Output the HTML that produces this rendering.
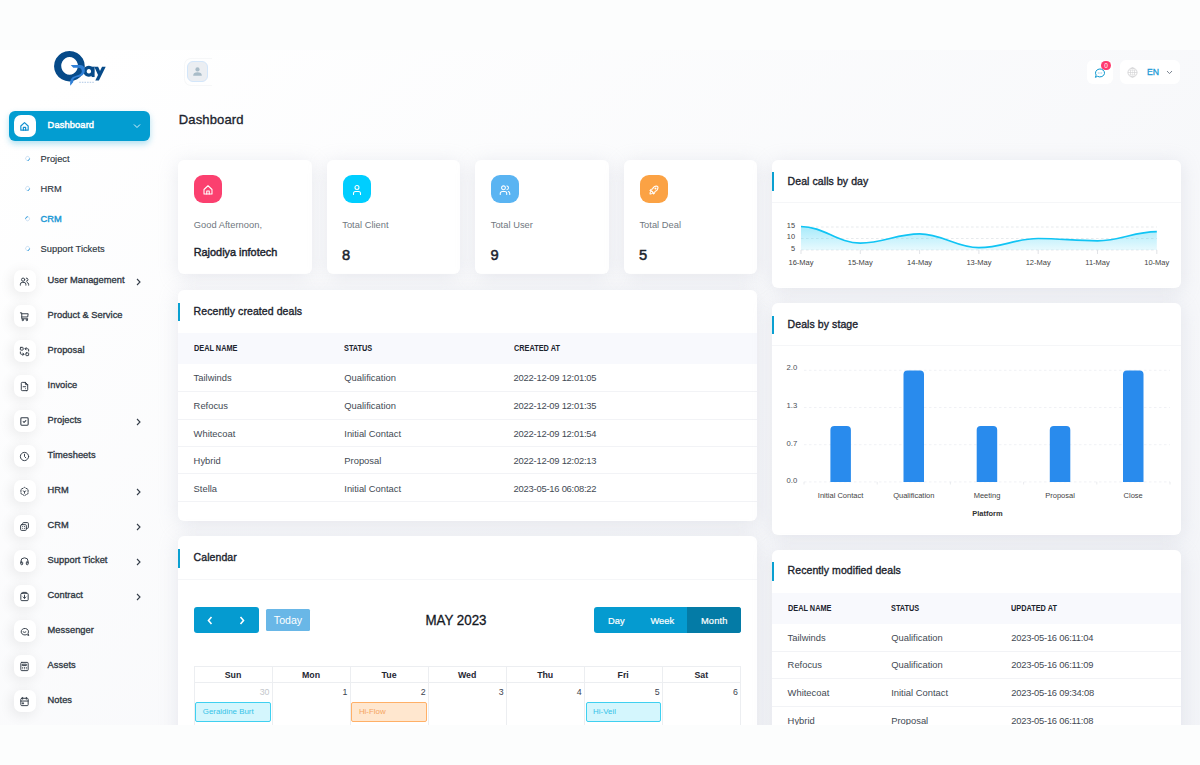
<!DOCTYPE html>
<html>
<head>
<meta charset="utf-8">
<title>Dashboard</title>
<style>
*{box-sizing:border-box;margin:0;padding:0}
html,body{width:1200px;height:765px;overflow:hidden}
body{font-family:"Liberation Sans",sans-serif;background:#fcfdfd;color:#293240;position:relative}
.abs{position:absolute}
#shot{position:absolute;left:0;top:50px;width:1200px;height:674.5px;background:linear-gradient(141.55deg,rgba(238,240,245,0) 3.46%,#eef0f5 99.86%) 0 0/1200px 1250px no-repeat,#fff;overflow:hidden}
/* all coords inside #shot are page-y minus 50 */
#side{position:absolute;left:0;top:0;width:178px;height:675px;background:transparent}
.mi{position:absolute;left:14px;width:150px;height:22px}
.mi .ib{position:absolute;left:0;top:0;width:22px;height:22px;border-radius:7px;background:#fff;box-shadow:-1.9px 2.5px 14px rgba(0,0,0,.09)}
.mi .ib svg{position:absolute;left:5.1px;top:5.5px;width:11px;height:11px;stroke:#333c48;fill:none;stroke-width:2.1;stroke-linecap:round;stroke-linejoin:round}
.mi .t{position:absolute;left:33.6px;top:5.2px;font-size:9.3px;line-height:11px;font-weight:400;-webkit-text-stroke:.32px;color:#2f3742;white-space:nowrap;letter-spacing:.03px}
.mi .ch{position:absolute;left:121px;top:8px;width:7px;height:8px}
.sub{position:absolute;left:40.6px;font-size:9.3px;line-height:11px;color:#2f3742;-webkit-text-stroke:.15px;white-space:nowrap}
.dot{position:absolute;left:25.3px;width:5.2px;height:5.2px;border-radius:50%;border:1.2px solid #d3e4f4;border-right-color:#2a98dc;background:#fff;transform:rotate(45deg)}

.card{position:absolute;background:#fff;border-radius:6px;box-shadow:0 3.75px 18.75px rgba(182,186,203,.3)}
.ctitle{position:absolute;left:15.6px;font-size:10.5px;line-height:12px;font-weight:400;-webkit-text-stroke:.35px;letter-spacing:.08px;color:#1b232d;white-space:nowrap}
.bar{position:absolute;left:0;width:2px;background:#0aa0d1}
.hr{position:absolute;left:0;right:0;height:1px;background:#f2f3f6}
.th{position:absolute;font-size:8.4px;line-height:10px;font-weight:700;color:#1b232d;white-space:nowrap;transform:scaleX(.875);transform-origin:0 50%;margin-left:-.3px;margin-top:-.9px}
.td{position:absolute;font-size:9.4px;line-height:11px;color:#434a54;white-space:nowrap;margin-left:-.4px;margin-top:.3px}
.thband{position:absolute;left:0;right:0;background:#f8f9fd}
.sic{position:absolute;left:16px;top:15px;width:28px;height:28px;border-radius:9px}
.sic svg{position:absolute;left:8px;top:9.5px;width:12px;height:12px;stroke:#fff;fill:none;stroke-width:2.1;stroke-linecap:round;stroke-linejoin:round}
.sl{position:absolute;left:15.7px;top:60px;font-size:9.3px;line-height:11px;letter-spacing:.04px;color:#6f7780;white-space:nowrap}
.sv{position:absolute;left:15.4px;top:86.4px;font-size:14.7px;line-height:18px;font-weight:400;-webkit-text-stroke:.5px;color:#1b232d;white-space:nowrap}
.ax{position:absolute;font-size:7.5px;color:#444;white-space:nowrap}
</style>
</head>
<body>
<div id="shot">
<div id="side">
<svg class="abs" style="left:48px;top:-4px" width="64" height="44" viewBox="0 0 64 44">
<path fill="#064a89" fill-rule="evenodd" d="M21.42 4.9 a15.38 15.24 0 1 0 0.01 0 Z M21.56 10.95 a8.34 8.9 0 1 1 -0.01 0 Z"/>
<path fill="#064a89" fill-rule="evenodd" d="M40.8 19.85 a5.46 5.46 0 1 0 0.01 0 Z M40.9 23.1 a2.2 2.2 0 1 1 -0.01 0 Z"/>
<rect x="43.6" y="20.7" width="3" height="10.35" fill="#064a89"/>
<path fill="#064a89" d="M46.3 20.7 h3.8 l3.5 7.9 l-2 4 z M54.05 20.7 h3.65 l-6.8 13.8 h-3.6 z"/>
<path fill="#2f7fd6" d="M22.7 19 L32 19 C35.5 19 37 22 36.8 25 C36.5 29 33 30.5 28 31.5 C25.5 32.2 25 33.5 25.3 36 L22.3 39.7 C22 36 22 33 25 31 C28 29.5 33.5 29 33.8 25.5 C33.9 23 32.5 21.8 30 21.8 L25.3 21.7 Z"/>
<path d="M31.3 36.3 H46" stroke="#3b78c2" stroke-width=".8" stroke-dasharray="1.5 1.1" opacity=".5"/>
</svg>
<div class="abs" style="left:9px;top:61px;width:141px;height:30px;border-radius:6px;background:#039dd1;box-shadow:0 3px 6px rgba(3,157,209,.3)"></div>
<div class="mi" style="top:65px"><div class="ib" style="box-shadow:none"><svg viewBox="0 0 24 24" style="stroke:#1590d0;stroke-width:2.6"><path d="M4 11 L12 3.5 L20 11 V20 H4 Z"/><path d="M9.5 20 v-6 h5 v6"/></svg></div><div class="t" style="color:#fff;-webkit-text-stroke:.45px;letter-spacing:.12px">Dashboard</div>
<svg class="ch" style="left:119px;top:8px;width:8px;height:6px" viewBox="0 0 8 6"><path d="M1 1.5 L4 4.500 L7 1.5" fill="none" stroke="#e8f6fc" stroke-width=".95"/></svg></div>
<div class="dot" style="top:106.1px"></div><div class="sub" style="top:104.3px;">Project</div>
<div class="dot" style="top:136.1px"></div><div class="sub" style="top:134.3px;">HRM</div>
<div class="dot" style="top:166.1px;transform:rotate(-135deg)"></div><div class="sub" style="top:164.3px;color:#1a98d5;-webkit-text-stroke:.4px">CRM</div>
<div class="dot" style="top:196.1px"></div><div class="sub" style="top:194.3px;">Support Tickets</div>
<div class="mi" style="top:220px"><div class="ib"><svg viewBox="0 0 24 24"><circle cx="9" cy="8" r="3.5"/><path d="M3 20 v-2 a4 4 0 0 1 4 -4 h4 a4 4 0 0 1 4 4 v2"/><path d="M16 4.5 a3.5 3.5 0 0 1 0 7"/><path d="M21 20 v-2 a4 4 0 0 0 -3 -3.8"/></svg></div><div class="t">User Management</div><svg class="ch" viewBox="0 0 7 8"><path d="M2 1 L5 4 L2 7" fill="none" stroke="#333c48" stroke-width="1.1"/></svg></div>
<div class="mi" style="top:255px"><div class="ib"><svg viewBox="0 0 24 24"><circle cx="8" cy="19.5" r="1.5"/><circle cx="17" cy="19.5" r="1.5"/><path d="M3 4 h3 v13 h13"/><path d="M6 6 h14 l-1 7 h-13"/></svg></div><div class="t">Product &amp; Service</div></div>
<div class="mi" style="top:290px"><div class="ib"><svg viewBox="0 0 24 24"><rect x="3" y="3" width="6" height="6" rx="1"/><rect x="15" y="15" width="6" height="6" rx="1"/><path d="M21 11 v-3 a2 2 0 0 0 -2 -2 h-6 l2.6 2.6 m0 -5.2 l-2.6 2.6"/><path d="M3 13 v3 a2 2 0 0 0 2 2 h6 l-2.6 -2.6 m0 5.2 l2.6 -2.6"/></svg></div><div class="t">Proposal</div></div>
<div class="mi" style="top:325px"><div class="ib"><svg viewBox="0 0 24 24"><path d="M14 3 v4 a1 1 0 0 0 1 1 h4"/><path d="M17 21 h-10 a2 2 0 0 1 -2 -2 v-14 a2 2 0 0 1 2 -2 h7 l5 5 v11 a2 2 0 0 1 -2 2z"/><path d="M9 12.5 h5.500 M14.5 16.8 h.01"/></svg></div><div class="t">Invoice</div></div>
<div class="mi" style="top:360px"><div class="ib"><svg viewBox="0 0 24 24"><rect x="4" y="4" width="16" height="16" rx="2" stroke-width="2.3"/><path d="M9 12 l2 2 l4 -4" stroke-width="2.3"/></svg></div><div class="t">Projects</div><svg class="ch" viewBox="0 0 7 8"><path d="M2 1 L5 4 L2 7" fill="none" stroke="#333c48" stroke-width="1.1"/></svg></div>
<div class="mi" style="top:395px"><div class="ib"><svg viewBox="0 0 24 24"><circle cx="12" cy="12" r="9"/><path d="M12 7 v5 l3 3"/></svg></div><div class="t">Timesheets</div></div>
<div class="mi" style="top:430px"><div class="ib"><svg viewBox="0 0 24 24"><path d="M12 3 L19.8 7.5 V16.5 L12 21 L4.2 16.5 V7.5 Z" stroke-dasharray="3.2 2.8" stroke-dashoffset="1.6"/><path d="M12 12.5 v3.5 M12 12.5 l-3 -1.8 M12 12.5 l3 -1.8" stroke-width="1.8"/></svg></div><div class="t">HRM</div><svg class="ch" viewBox="0 0 7 8"><path d="M2 1 L5 4 L2 7" fill="none" stroke="#333c48" stroke-width="1.1"/></svg></div>
<div class="mi" style="top:465px"><div class="ib"><svg viewBox="0 0 24 24"><rect x="3.5" y="8" width="12.5" height="12.5" rx="2"/><path d="M8 8 v-2.5 a2 2 0 0 1 2 -2 h8.5 a2 2 0 0 1 2 2 v8.500 a2 2 0 0 1 -2 2 h-2.500"/><path d="M8 12 h.01 M12 12 h.01 M8 16 h.01 M12 16 h.01" stroke-width="2.2"/></svg></div><div class="t">CRM</div><svg class="ch" viewBox="0 0 7 8"><path d="M2 1 L5 4 L2 7" fill="none" stroke="#333c48" stroke-width="1.1"/></svg></div>
<div class="mi" style="top:500px"><div class="ib"><svg viewBox="0 0 24 24"><rect x="4" y="13" width="4" height="6" rx="1.5"/><rect x="16" y="13" width="4" height="6" rx="1.5"/><path d="M4 15 v-3 a8 8 0 0 1 16 0 v3"/></svg></div><div class="t">Support Ticket</div><svg class="ch" viewBox="0 0 7 8"><path d="M2 1 L5 4 L2 7" fill="none" stroke="#333c48" stroke-width="1.1"/></svg></div>
<div class="mi" style="top:535px"><div class="ib"><svg viewBox="0 0 24 24"><rect x="4" y="5" width="16" height="16" rx="2"/><path d="M8 5 v-2 h8 v2"/><path d="M12 9 v7 M9 13 l3 3 l3 -3"/></svg></div><div class="t">Contract</div><svg class="ch" viewBox="0 0 7 8"><path d="M2 1 L5 4 L2 7" fill="none" stroke="#333c48" stroke-width="1.1"/></svg></div>
<div class="mi" style="top:570px"><div class="ib"><svg viewBox="0 0 24 24"><g transform="translate(24 0) scale(-1 1)"><path d="M3 20 l1.3 -3.9 a8 7.2 0 1 1 3.4 2.9 z"/><path d="M9 13 q3 2.5 6 0"/></g></svg></div><div class="t">Messenger</div></div>
<div class="mi" style="top:605px"><div class="ib"><svg viewBox="0 0 24 24"><rect x="4" y="3" width="16" height="18" rx="2"/><rect x="8" y="7" width="8" height="3"/><path d="M8 14 v.01 M12 14 v.01 M16 14 v.01 M8 17 v.01 M12 17 v.01 M16 17 v.01"/></svg></div><div class="t">Assets</div></div>
<div class="mi" style="top:640px"><div class="ib"><svg viewBox="0 0 24 24"><rect x="4" y="5" width="16" height="16" rx="2"/><path d="M16 3 v4 M8 3 v4 M4 11 h16"/><rect x="8" y="15" width="2" height="2"/></svg></div><div class="t">Notes</div></div>
</div>
<div id="main">
<div class="abs" style="left:184px;top:8px;width:28px;height:28px;border-radius:7px 0 0 7px;border:1px solid #f6f7f8;border-right:none;background:transparent"></div>
<div class="abs" style="left:187px;top:11px;width:21px;height:21px;border-radius:6px;background:#ebeef2;border:1px solid #d3e6fa"><svg class="abs" style="left:4px;top:4px" width="11" height="11" viewBox="0 0 24 24" fill="#a9bcc8"><circle cx="12" cy="7.5" r="4.6"/><path d="M2.5 21 c0 -5.5 4 -7.5 9.5 -7.5 s9.5 2 9.5 7.5 z"/></svg></div>
<div class="abs" style="left:1087px;top:10px;width:25.5px;height:24px;border-radius:6px;background:#fff"></div>
<svg class="abs" style="left:1093.5px;top:16.5px" width="12" height="12" viewBox="0 0 24 24" fill="none" stroke="#0b97cf" stroke-width="2" stroke-linecap="round" stroke-linejoin="round"><path d="M3 20 l1.3 -3.9 a9 8 0 1 1 3.4 2.9 z"/><path d="M8.5 12 h.01 M12 12 h.01 M15.5 12 h.01" stroke="#5ab0e0"/></svg>
<div class="abs" style="left:1101.3px;top:10.899999999999999px;width:9.4px;height:9.4px;border-radius:50%;background:#ff3a6e;color:#fff;font-size:6.5px;text-align:center;line-height:9.4px">0</div>
<div class="abs" style="left:1120px;top:10px;width:60px;height:24px;border-radius:6px;background:#fff"></div>
<svg class="abs" style="left:1127px;top:17px" width="11" height="11" viewBox="0 0 24 24" fill="none" stroke="#c9c9cc" stroke-width="1.5"><circle cx="12" cy="12" r="10"/><ellipse cx="12" cy="12" rx="4.5" ry="10" stroke-width="1.2"/><path d="M2 12 h20" stroke-width="1.2"/><path d="M12 2 v20 M3.8 7.5 h16.4 M3.8 16.5 h16.4" stroke-width=".7"/></svg>
<div class="abs" style="left:1147px;top:17px;font-size:8.7px;line-height:11px;color:#1d9ad6;-webkit-text-stroke:.3px;letter-spacing:0">EN</div>
<svg class="abs" style="left:1166px;top:20px" width="7" height="5" viewBox="0 0 7 5"><path d="M1 1 L3.5 3.6 L6 1" fill="none" stroke="#7b8591" stroke-width="1"/></svg>
<div class="abs" style="left:178.8px;top:62.4px;font-size:13px;line-height:15px;font-weight:400;-webkit-text-stroke:.33px;color:#1b232d;letter-spacing:.13px">Dashboard</div>
<div class="card" style="left:178px;top:109.6px;width:133.7px;height:114.8px"><div class="sic" style="background:#fb406f"><svg viewBox="0 0 24 24"><path d="M4 11 L12 3.5 L20 11 V20 H4 Z"/><path d="M9.5 20 v-6 h5 v6"/></svg></div><div class="sl">Good Afternoon,</div><div class="sv" style="font-size:10.9px;line-height:13px;top:86.2px;-webkit-text-stroke:.42px;left:15.7px">Rajodiya infotech</div></div>
<div class="card" style="left:326.5px;top:109.6px;width:133.7px;height:114.8px"><div class="sic" style="background:#00ceff"><svg viewBox="0 0 24 24"><circle cx="12" cy="7" r="4"/><path d="M5 21 v-2 a4 4 0 0 1 4 -4 h6 a4 4 0 0 1 4 4 v2"/></svg></div><div class="sl">Total Client</div><div class="sv" style="">8</div></div>
<div class="card" style="left:475px;top:109.6px;width:133.7px;height:114.8px"><div class="sic" style="background:#5ab4f2"><svg viewBox="0 0 24 24"><circle cx="9" cy="7.5" r="3.8"/><path d="M2.5 21 v-2 a4 4 0 0 1 4 -4 h5 a4 4 0 0 1 4 4 v2"/><path d="M16 3.8 a3.8 3.8 0 0 1 0 7.4"/><path d="M21.5 21 v-2 a4 4 0 0 0 -3 -3.8"/></svg></div><div class="sl">Total User</div><div class="sv" style="">9</div></div>
<div class="card" style="left:623.7px;top:109.6px;width:133.3px;height:114.8px"><div class="sic" style="background:#fba244"><svg viewBox="0 0 24 24"><path d="M4 13 a8 8 0 0 1 7 7 a6 6 0 0 0 3 -5 a9 9 0 0 0 6 -8 a3 3 0 0 0 -3 -3 a9 9 0 0 0 -8 6 a6 6 0 0 0 -5 3"/><path d="M7 14 a6 6 0 0 0 -3 6 a6 6 0 0 0 6 -3"/><circle cx="15" cy="9" r="1"/></svg></div><div class="sl">Total Deal</div><div class="sv" style="">5</div></div>
<div class="card" style="left:178px;top:240px;width:579px;height:231px"><div class="bar" style="top:12.5px;height:18.5px"></div><div class="ctitle" style="top:15px">Recently created deals</div><div class="thband" style="top:43px;height:31px"></div><div class="th" style="left:16px;top:54px">DEAL NAME</div><div class="th" style="left:166.7px;top:54px">STATUS</div><div class="th" style="left:336px;top:54px">CREATED AT</div><div class="td" style="left:16px;top:81.5px">Tailwinds</div><div class="td" style="left:166.7px;top:81.5px">Qualification</div><div class="td" style="left:336px;top:81.5px;letter-spacing:-.23px">2022-12-09 12:01:05</div><div class="hr" style="top:100.5px"></div><div class="td" style="left:16px;top:110.2px">Refocus</div><div class="td" style="left:166.7px;top:110.2px">Qualification</div><div class="td" style="left:336px;top:110.2px;letter-spacing:-.23px">2022-12-09 12:01:35</div><div class="hr" style="top:128.5px"></div><div class="td" style="left:16px;top:137.5px">Whitecoat</div><div class="td" style="left:166.7px;top:137.5px">Initial Contact</div><div class="td" style="left:336px;top:137.5px;letter-spacing:-.23px">2022-12-09 12:01:54</div><div class="hr" style="top:155.7px"></div><div class="td" style="left:16px;top:165.0px">Hybrid</div><div class="td" style="left:166.7px;top:165.0px">Proposal</div><div class="td" style="left:336px;top:165.0px;letter-spacing:-.23px">2022-12-09 12:02:13</div><div class="hr" style="top:183.3px"></div><div class="td" style="left:16px;top:193.2px">Stella</div><div class="td" style="left:166.7px;top:193.2px">Initial Contact</div><div class="td" style="left:336px;top:193.2px;letter-spacing:-.23px">2023-05-16 06:08:22</div><div class="hr" style="top:211.2px"></div></div>
<div class="card" style="left:178px;top:486px;width:579px;height:260px"><div class="bar" style="top:13px;height:18.5px"></div><div class="ctitle" style="top:15.1px">Calendar</div><div class="hr" style="top:43.2px;background:#f5f6f8"></div><div class="abs" style="left:16px;top:71px;width:65px;height:25.5px;border-radius:3px;background:#059bd0"></div>
<svg class="abs" style="left:29px;top:79.5px" width="6" height="9" viewBox="0 0 6 9"><path d="M4.5 1 L1.5 4.5 L4.5 8" fill="none" stroke="#fff" stroke-width="1.6"/></svg>
<svg class="abs" style="left:61px;top:79.5px" width="6" height="9" viewBox="0 0 6 9"><path d="M1.5 1 L4.5 4.5 L1.5 8" fill="none" stroke="#fff" stroke-width="1.6"/></svg>
<div class="abs" style="left:88px;top:73px;width:44px;height:22px;border-radius:1.5px;background:#69b7e7;color:#fff;font-size:10.6px;line-height:22px;text-align:center">Today</div>
<div class="abs" style="left:178.2px;top:75.6px;width:200px;text-align:center;font-size:14.2px;line-height:16px;color:#15191f;-webkit-text-stroke:.3px;transform:scaleX(.94)">MAY 2023</div>
<div class="abs" style="left:416.4px;top:71px;width:147px;height:25.7px;border-radius:3px;background:#059bd0"></div>
<div class="abs" style="left:508.9px;top:71px;width:54.5px;height:25.7px;border-radius:0 3px 3px 0;background:#047ba6"></div>
<div class="abs" style="left:416.4px;top:72.6px;width:44px;line-height:25.5px;text-align:center;color:#fff;font-size:9.3px;-webkit-text-stroke:.2px">Day</div>
<div class="abs" style="left:462.3px;top:72.6px;width:44px;line-height:25.5px;text-align:center;color:#fff;font-size:9.3px;-webkit-text-stroke:.2px">Week</div>
<div class="abs" style="left:509px;top:72.6px;width:54.5px;line-height:25.5px;text-align:center;color:#fff;font-size:9.3px;letter-spacing:.15px;-webkit-text-stroke:.2px">Month</div>
<div class="abs" style="left:16.0px;top:130px;width:546.4px;height:70px;border-top:1px solid #eceef1;border-left:1px solid #eceef1"></div><div class="abs" style="left:16.0px;top:145.8px;width:546.4px;height:1px;background:#eceef1"></div><div class="abs" style="left:94.0px;top:130px;width:1px;height:70px;background:#eceef1"></div><div class="abs" style="left:16.0px;top:133.8px;width:78.0px;text-align:center;font-size:8.8px;font-weight:700;color:#1f2733">Sun</div><div class="abs" style="left:16.0px;top:150.8px;width:75.5px;text-align:right;font-size:8.8px;color:#c4c7cc">30</div><div class="abs" style="left:172.1px;top:130px;width:1px;height:70px;background:#eceef1"></div><div class="abs" style="left:94.0px;top:133.8px;width:78.0px;text-align:center;font-size:8.8px;font-weight:700;color:#1f2733">Mon</div><div class="abs" style="left:94.0px;top:150.8px;width:75.5px;text-align:right;font-size:8.8px;color:#3c4450">1</div><div class="abs" style="left:250.1px;top:130px;width:1px;height:70px;background:#eceef1"></div><div class="abs" style="left:172.1px;top:133.8px;width:78.0px;text-align:center;font-size:8.8px;font-weight:700;color:#1f2733">Tue</div><div class="abs" style="left:172.1px;top:150.8px;width:75.5px;text-align:right;font-size:8.8px;color:#3c4450">2</div><div class="abs" style="left:328.2px;top:130px;width:1px;height:70px;background:#eceef1"></div><div class="abs" style="left:250.1px;top:133.8px;width:78.0px;text-align:center;font-size:8.8px;font-weight:700;color:#1f2733">Wed</div><div class="abs" style="left:250.1px;top:150.8px;width:75.5px;text-align:right;font-size:8.8px;color:#3c4450">3</div><div class="abs" style="left:406.2px;top:130px;width:1px;height:70px;background:#eceef1"></div><div class="abs" style="left:328.2px;top:133.8px;width:78.0px;text-align:center;font-size:8.8px;font-weight:700;color:#1f2733">Thu</div><div class="abs" style="left:328.2px;top:150.8px;width:75.5px;text-align:right;font-size:8.8px;color:#3c4450">4</div><div class="abs" style="left:484.3px;top:130px;width:1px;height:70px;background:#eceef1"></div><div class="abs" style="left:406.2px;top:133.8px;width:78.0px;text-align:center;font-size:8.8px;font-weight:700;color:#1f2733">Fri</div><div class="abs" style="left:406.2px;top:150.8px;width:75.5px;text-align:right;font-size:8.8px;color:#3c4450">5</div><div class="abs" style="left:562.3px;top:130px;width:1px;height:70px;background:#eceef1"></div><div class="abs" style="left:484.3px;top:133.8px;width:78.0px;text-align:center;font-size:8.8px;font-weight:700;color:#1f2733">Sat</div><div class="abs" style="left:484.3px;top:150.8px;width:75.5px;text-align:right;font-size:8.8px;color:#3c4450">6</div><div class="abs" style="left:17.3px;top:166px;width:75.4px;height:20px;border-radius:2px;background:#d4f6fd;border:1px solid #3fd0f0;color:#35c3e8;font-size:7.9px;line-height:18px;padding-left:6.5px">Geraldine Burt</div><div class="abs" style="left:173.4px;top:166px;width:75.4px;height:20px;border-radius:2px;background:#ffe7cf;border:1px solid #ffb067;color:#f5a55f;font-size:7.9px;line-height:18px;padding-left:6.5px">Hi-Flow</div><div class="abs" style="left:407.6px;top:166px;width:75.4px;height:20px;border-radius:2px;background:#d4f6fd;border:1px solid #3fd0f0;color:#35c3e8;font-size:7.9px;line-height:18px;padding-left:6.5px">Hi-Veil</div></div>
<div class="card" style="left:772px;top:110px;width:409px;height:127.5px"><div class="bar" style="top:12px;height:18.5px"></div><div class="ctitle" style="top:15px">Deal calls by day</div><div class="hr" style="top:42px;background:#f5f6f8"></div><svg class="abs" style="left:0;top:0" width="409" height="127" viewBox="0 0 409 127"><defs><linearGradient id="ag" x1="0" y1="0" x2="0" y2="1"><stop offset="0" stop-color="#3bd1f5" stop-opacity=".45"/><stop offset="1" stop-color="#3bd1f5" stop-opacity=".12"/></linearGradient></defs><line x1="29.0" x2="384.79999999999995" y1="67" y2="67" stroke="#e1e4e8" stroke-width=".8" stroke-dasharray="2.6 2.4"/><line x1="29.0" x2="384.79999999999995" y1="78.5" y2="78.5" stroke="#e1e4e8" stroke-width=".8" stroke-dasharray="2.6 2.4"/><line x1="29.0" x2="384.79999999999995" y1="90" y2="90" stroke="#e1e4e8" stroke-width=".8" stroke-dasharray="2.6 2.4"/><path d="M29.0 66.5 C51.8 66.5 65.5 83.1 88.3 83.1 C111.1 83.1 124.8 73.9 147.6 73.9 C170.4 73.9 184.1 87.7 206.9 87.7 C229.7 87.7 243.4 78.5 266.2 78.5 C289.0 78.5 302.7 80.8 325.5 80.8 C348.3 80.8 362.0 71.6 384.8 71.6 L384.8 90 L29.0 90 Z" fill="url(#ag)"/><path d="M29.0 66.5 C51.8 66.5 65.5 83.1 88.3 83.1 C111.1 83.1 124.8 73.9 147.6 73.9 C170.4 73.9 184.1 87.7 206.9 87.7 C229.7 87.7 243.4 78.5 266.2 78.5 C289.0 78.5 302.7 80.8 325.5 80.8 C348.3 80.8 362.0 71.6 384.8 71.6" fill="none" stroke="#10c4f4" stroke-width="1.7"/><line x1="29.0" x2="29.0" y1="90" y2="94" stroke="#d9dce1" stroke-width=".8"/><line x1="88.3" x2="88.3" y1="90" y2="94" stroke="#d9dce1" stroke-width=".8"/><line x1="147.6" x2="147.6" y1="90" y2="94" stroke="#d9dce1" stroke-width=".8"/><line x1="206.9" x2="206.9" y1="90" y2="94" stroke="#d9dce1" stroke-width=".8"/><line x1="266.2" x2="266.2" y1="90" y2="94" stroke="#d9dce1" stroke-width=".8"/><line x1="325.5" x2="325.5" y1="90" y2="94" stroke="#d9dce1" stroke-width=".8"/><line x1="384.8" x2="384.8" y1="90" y2="94" stroke="#d9dce1" stroke-width=".8"/></svg><div class="ax" style="left:8px;width:15px;text-align:right;top:60.6px;font-size:7.4px">15</div><div class="ax" style="left:8px;width:15px;text-align:right;top:72.0px;font-size:7.4px">10</div><div class="ax" style="left:8px;width:15px;text-align:right;top:83.7px;font-size:7.4px">5</div><div class="ax" style="left:9.0px;width:40px;text-align:center;top:98.1px">16-May</div><div class="ax" style="left:68.3px;width:40px;text-align:center;top:98.1px">15-May</div><div class="ax" style="left:127.6px;width:40px;text-align:center;top:98.1px">14-May</div><div class="ax" style="left:186.9px;width:40px;text-align:center;top:98.1px">13-May</div><div class="ax" style="left:246.2px;width:40px;text-align:center;top:98.1px">12-May</div><div class="ax" style="left:305.5px;width:40px;text-align:center;top:98.1px">11-May</div><div class="ax" style="left:364.8px;width:40px;text-align:center;top:98.1px">10-May</div></div>
<div class="card" style="left:772px;top:253px;width:409px;height:231.5px"><div class="bar" style="top:12.5px;height:18.5px"></div><div class="ctitle" style="top:14.9px">Deals by stage</div><div class="hr" style="top:42.3px;background:#f5f6f8"></div><svg class="abs" style="left:0;top:0" width="409" height="231" viewBox="0 0 409 231"><line x1="32" x2="398" y1="67.3" y2="67.3" stroke="#eceef2" stroke-width=".8" stroke-dasharray="2.5 2.5"/><line x1="32" x2="398" y1="104.5" y2="104.5" stroke="#eceef2" stroke-width=".8" stroke-dasharray="2.5 2.5"/><line x1="32" x2="398" y1="141.7" y2="141.7" stroke="#eceef2" stroke-width=".8" stroke-dasharray="2.5 2.5"/><line x1="32" x2="398" y1="178.9" y2="178.9" stroke="#eceef2" stroke-width=".8" stroke-dasharray="2.5 2.5"/><path d="M58.4 178.9 V127.1 a4 4 0 0 1 4 -4 h12.5 a4 4 0 0 1 4 4 V178.9 Z" fill="#298bed"/><path d="M131.5 178.9 V71.4 a4 4 0 0 1 4 -4 h12.5 a4 4 0 0 1 4 4 V178.9 Z" fill="#298bed"/><path d="M204.7 178.9 V127.1 a4 4 0 0 1 4 -4 h12.5 a4 4 0 0 1 4 4 V178.9 Z" fill="#298bed"/><path d="M277.8 178.9 V127.1 a4 4 0 0 1 4 -4 h12.5 a4 4 0 0 1 4 4 V178.9 Z" fill="#298bed"/><path d="M351.0 178.9 V71.4 a4 4 0 0 1 4 -4 h12.5 a4 4 0 0 1 4 4 V178.9 Z" fill="#298bed"/><line x1="32.0" x2="32.0" y1="178.9" y2="181.5" stroke="#e3e6ea" stroke-width=".8"/><line x1="105.2" x2="105.2" y1="178.9" y2="181.5" stroke="#e3e6ea" stroke-width=".8"/><line x1="178.4" x2="178.4" y1="178.9" y2="181.5" stroke="#e3e6ea" stroke-width=".8"/><line x1="251.6" x2="251.6" y1="178.9" y2="181.5" stroke="#e3e6ea" stroke-width=".8"/><line x1="324.8" x2="324.8" y1="178.9" y2="181.5" stroke="#e3e6ea" stroke-width=".8"/><line x1="398.0" x2="398.0" y1="178.9" y2="181.5" stroke="#e3e6ea" stroke-width=".8"/></svg><div class="ax" style="left:14.6px;top:60.4px;font-size:7.7px;color:#4a4f57">2.0</div><div class="ax" style="left:14.6px;top:98.1px;font-size:7.7px;color:#4a4f57">1.3</div><div class="ax" style="left:14.6px;top:135.5px;font-size:7.7px;color:#4a4f57">0.7</div><div class="ax" style="left:14.6px;top:172.9px;font-size:7.7px;color:#4a4f57">0.0</div><div class="ax" style="left:33.6px;width:70px;text-align:center;top:188.3px">Initial Contact</div><div class="ax" style="left:106.8px;width:70px;text-align:center;top:188.3px">Qualification</div><div class="ax" style="left:180.0px;width:70px;text-align:center;top:188.3px">Meeting</div><div class="ax" style="left:253.1px;width:70px;text-align:center;top:188.3px">Proposal</div><div class="ax" style="left:326.2px;width:70px;text-align:center;top:188.3px">Close</div><div class="ax" style="left:185.4px;width:60px;text-align:center;top:206.3px;font-weight:700;color:#333">Platform</div></div>
<div class="card" style="left:772px;top:499.5px;width:409px;height:260px"><div class="bar" style="top:12.5px;height:18.5px"></div><div class="ctitle" style="top:14.9px">Recently modified deals</div><div class="thband" style="top:43px;height:31px"></div><div class="th" style="left:16px;top:54px">DEAL NAME</div><div class="th" style="left:119.6px;top:54px">STATUS</div><div class="th" style="left:239.6px;top:54px">UPDATED AT</div><div class="td" style="left:16px;top:82.3px">Tailwinds</div><div class="td" style="left:119.6px;top:82.3px">Qualification</div><div class="td" style="left:239.6px;top:82.3px;letter-spacing:-.23px">2023-05-16 06:11:04</div><div class="hr" style="top:101.0px"></div><div class="td" style="left:16px;top:109.3px">Refocus</div><div class="td" style="left:119.6px;top:109.3px">Qualification</div><div class="td" style="left:239.6px;top:109.3px;letter-spacing:-.23px">2023-05-16 06:11:09</div><div class="hr" style="top:128.5px"></div><div class="td" style="left:16px;top:137.3px">Whitecoat</div><div class="td" style="left:119.6px;top:137.3px">Initial Contact</div><div class="td" style="left:239.6px;top:137.3px;letter-spacing:-.23px">2023-05-16 09:34:08</div><div class="hr" style="top:156.0px"></div><div class="td" style="left:16px;top:165.4px">Hybrid</div><div class="td" style="left:119.6px;top:165.4px">Proposal</div><div class="td" style="left:239.6px;top:165.4px;letter-spacing:-.23px">2023-05-16 06:11:08</div><div class="hr" style="top:183.5px"></div><div class="td" style="left:16px;top:193.0px">Stella</div><div class="td" style="left:119.6px;top:193.0px">Initial Contact</div><div class="td" style="left:239.6px;top:193.0px;letter-spacing:-.23px">2023-05-16 06:11:10</div><div class="hr" style="top:211.0px"></div></div>
</div>
</div>
</body>
</html>
